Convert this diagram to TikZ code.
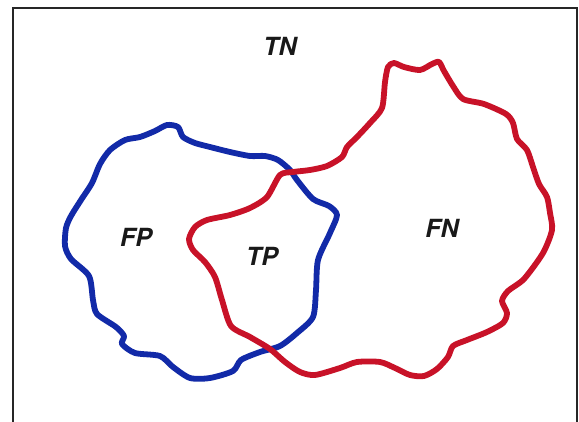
\documentclass[tikz,border=0pt]{standalone}
\usepackage{fontspec}
\setmainfont{TeX Gyre Heros}
\begin{document}
\begin{tikzpicture}[x=1pt,y=-1pt,
  frameline/.style={draw=black!85,line width=1.4pt},
  setline/.style={line width=5.8pt,line join=round,smooth cycle,tension=0.45},
  lbl/.style={font=\fontsize{25}{25}\selectfont\bfseries\itshape,text=black!90,inner sep=0pt}]
\definecolor{predblue}{RGB}{18,42,168}
\definecolor{actred}{RGB}{200,18,40}
\useasboundingbox (0,0) rectangle (579,422);
\fill[white] (0,0) rectangle (579,422);
% outer frame (bottom edge runs off the page)
\draw[frameline] (13,430) -- (13,8) -- (577,8) -- (577,430);
% predicted-positive region
\draw[setline,draw=predblue] plot coordinates {
  (167,125) (178,127) (183,137) (195,143) (210,147) (230,152) (250,156)
  (265,156) (278,160) (290,170) (297,180) (313,199) (329,206) (337,215)
  (330,233) (318,260) (316,290) (313,317) (297,333) (280,346) (260,352)
  (241,360) (233,371) (210,378) (190,378) (173,367) (160,356) (135,353)
  (122,344) (124,336) (116,327) (97,314) (93,300) (89,276) (71,259)
  (65,246) (66,228) (71,216) (81,200) (92,183) (100,164) (110,150)
  (125,140) (140,137) (155,131)};
% actual-positive region
\draw[setline,draw=actred] plot coordinates {
  (280,175) (267,197) (250,208) (230,215) (207,220) (195,227) (189,239)
  (193,250) (205,262) (215,277) (222,300) (231,326) (250,337) (270,349)
  (285,362) (300,372) (315,375) (340,368) (357,362) (380,362) (395,368)
  (410,375) (424,376) (437,369) (448,357) (453,346) (467,340) (487,332)
  (503,323) (507,313) (502,301) (508,291) (524,279) (543,253) (552,230)
  (550,213) (547,197) (539,184) (533,167) (527,150) (517,139) (513,123)
  (506,114) (484,104) (463,99) (453,86) (444,71) (439,62) (432,64)
  (420,70) (404,67) (394,63) (388,67) (385,82) (382,108) (370,123)
  (357,137) (347,147) (342,157) (327,166) (310,170) (293,172)};
\node[lbl] (tn) at (280,46) {TN};
\node[lbl] (fp) at (136,237) {FP};
\node[lbl] (tp) at (262,256) {TP};
\node[lbl] (fn) at (442,228) {FN};
\end{tikzpicture}
\end{document}
